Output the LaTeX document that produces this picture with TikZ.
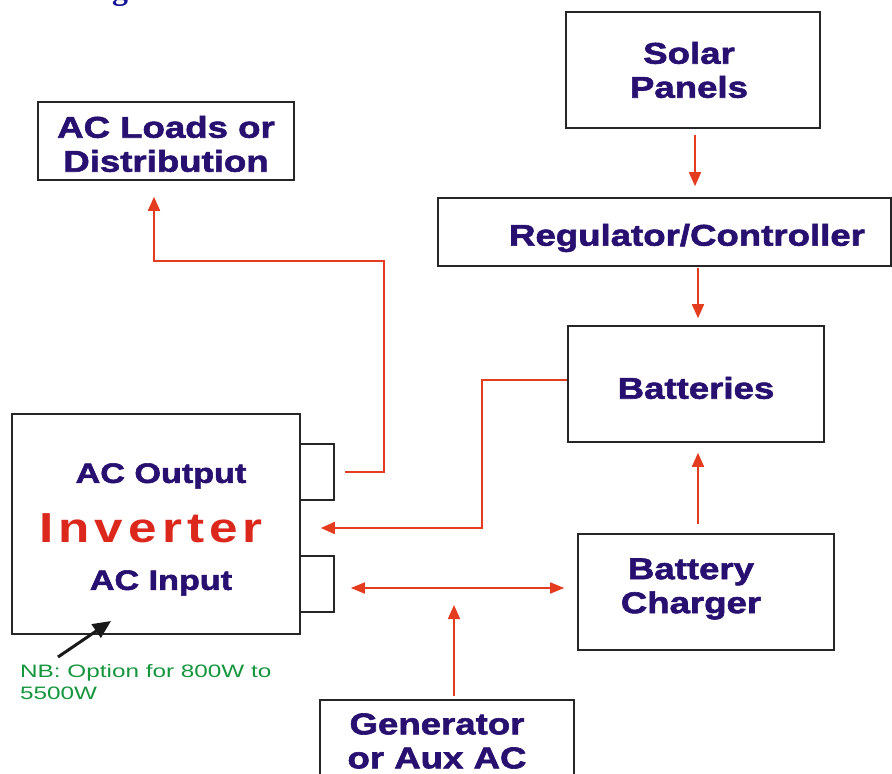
\documentclass[tikz,border=0pt]{standalone}
\usepackage{fontspec}
\setmainfont{Liberation Sans}
\newfontfamily\boxfont[FakeStretch=1.22, BoldFeatures={FakeBold=2}]{Liberation Sans}
\newfontfamily\invfont[LetterSpace=12, FakeStretch=1.22]{Liberation Sans}
\newfontfamily\nbfont[FakeStretch=1.35]{Liberation Sans}
\newfontfamily\titlefont{Liberation Serif}
\usetikzlibrary{arrows.meta}
\definecolor{txt}{RGB}{40,16,112}
\definecolor{linered}{RGB}{228,60,30}
\definecolor{invred}{RGB}{220,40,28}
\definecolor{nbgreen}{RGB}{20,150,60}
\definecolor{ttl}{RGB}{20,20,150}
\tikzset{
  box/.style={draw=black!85, line width=1.6pt, inner sep=0pt, fill=none},
  lbl/.style={text=txt, font=\boxfont\bfseries\fontsize{30}{34}\selectfont, align=center, inner sep=0pt},
  sublbl/.style={text=txt, font=\boxfont\bfseries\fontsize{28}{32}\selectfont, inner sep=0pt},
  redarrow/.style={draw=linered, line width=1.7pt, -{Triangle[length=14pt,width=12pt]}},
  bothred/.style={draw=linered, line width=1.7pt, {Triangle[length=14pt,width=11pt]}-{Triangle[length=14pt,width=11pt]}},
  blackarrow/.style={draw=black!90, line width=3pt, -{Triangle[length=18pt,width=16pt]}}
}
\begin{document}
\begin{tikzpicture}[x=1pt,y=-1pt]
\useasboundingbox (0,0) rectangle (892,774);
% title fragment
\node[anchor=base west, inner sep=0pt, text=ttl, font=\titlefont\bfseries\fontsize{32}{36}\selectfont] (title) at (112,-1) {g};
% boxes
\node[box, minimum width=254, minimum height=116] (solar) at (693,70) {};
\node[lbl] (solart) at (689,70) {Solar\\Panels};
\node[box, minimum width=453, minimum height=68] (reg) at (664.5,232) {};
\node[lbl] (regt) at (687,238) {Regulator/Controller};
\node[box, minimum width=256, minimum height=116] (batt) at (696,384) {};
\node[lbl] (battt) at (696,388) {Batteries};
\node[box, minimum width=256, minimum height=116] (charger) at (706,592) {};
\node[lbl] (chargert) at (691,589) {Battery\\Charger};
\node[box, minimum width=256, minimum height=78] (loads) at (166,141) {};
\node[lbl] (loadst) at (166,144) {AC Loads or\\Distribution};
\node[box, minimum width=288, minimum height=220] (inv) at (156,524) {};
\node[box, minimum width=34, minimum height=56] (tabup) at (317,472) {};
\node[box, minimum width=34, minimum height=56] (tabdn) at (317,584) {};
\node[sublbl] (acout) at (161,476) {AC Output};
\node[text=invred, font=\invfont\bfseries\fontsize{42}{46}\selectfont, inner sep=0pt] (invt) at (151,528) {I\kern5pt nverter};
\node[sublbl] (acin) at (161,583) {AC Input};
\node[box, minimum width=254, minimum height=100] (gen) at (447,750) {};
\node[lbl] (gent) at (437,741) {Generator\\or Aux AC};
% NB note
\node[anchor=base west, inner sep=0pt, text=nbgreen, align=left, font=\nbfont\fontsize{18}{22}\selectfont] (nb) at (20,699) {NB: Option for 800W to\\5500W};
% connectors
\draw[redarrow] ([xshift=2pt,yshift=-6pt]solar.south) -- ([xshift=30.5pt,yshift=11pt]reg.north);
\draw[redarrow] ([xshift=33.5pt,yshift=-1pt]reg.south) -- ([xshift=2pt,yshift=7pt]batt.north);
\draw[redarrow] ([xshift=-8pt,yshift=9pt]charger.north) -- ([xshift=2pt,yshift=-10pt]batt.south);
\coordinate (bj) at (482,380);
\coordinate (ij) at (482,528);
\draw[redarrow] ([yshift=4pt]batt.west) -- (bj) -- (ij) -- ([xshift=20pt,yshift=-4pt]inv.east);
\coordinate (o1) at (384,472);
\coordinate (o2) at (384,261);
\coordinate (o3) at (154,261);
\draw[redarrow] ([xshift=10pt]tabup.east) -- (o1) -- (o2) -- (o3) -- ([xshift=-12pt,yshift=-16pt]loads.south);
\draw[bothred] ([xshift=16pt,yshift=-4pt]tabdn.east) -- ([xshift=-13pt,yshift=4pt]charger.west);
\coordinate (gtip) at (454,605);
\draw[redarrow] ([xshift=7pt,yshift=3pt]gen.north) -- (gtip);
\coordinate (nbtail) at (58,657);
\coordinate (nbtip) at (111,621);
\draw[blackarrow] (nbtail) -- (nbtip);
\end{tikzpicture}
\end{document}
